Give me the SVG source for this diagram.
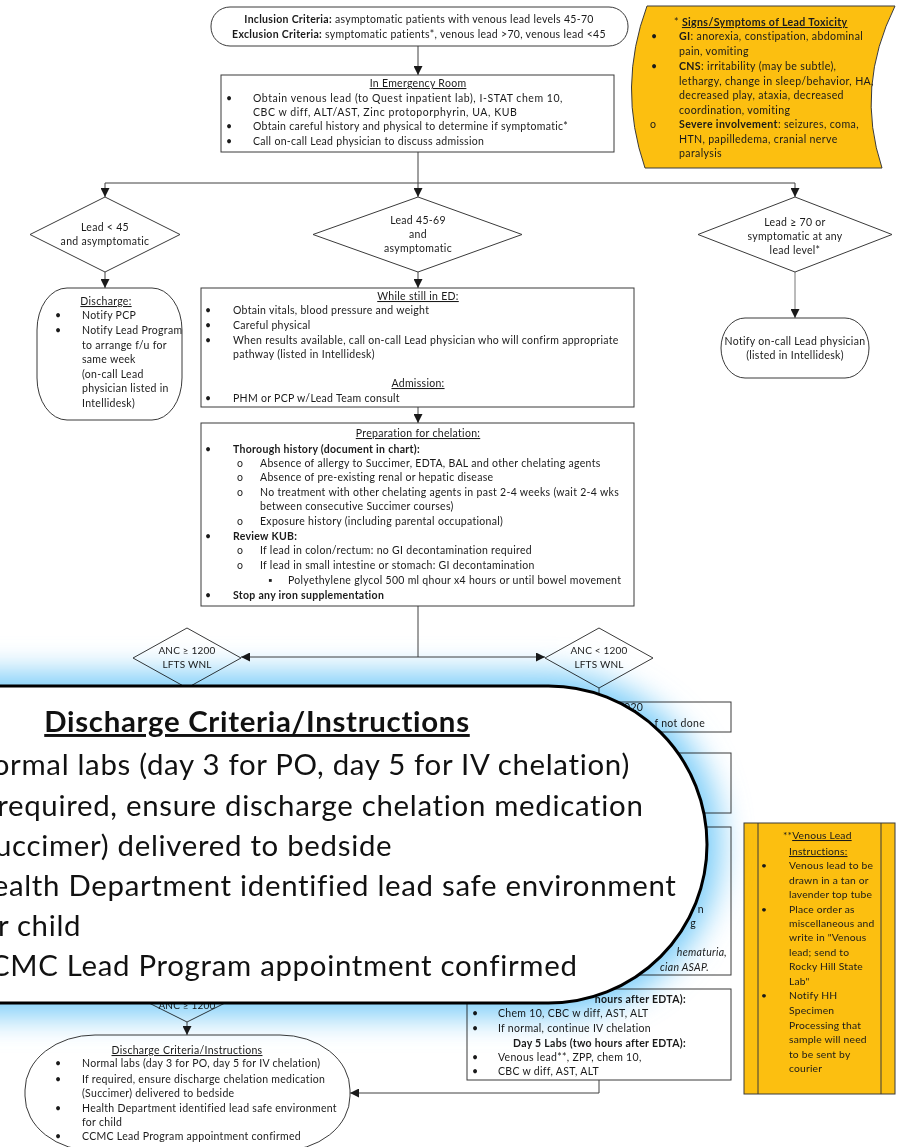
<svg xmlns="http://www.w3.org/2000/svg" width="900" height="1147" viewBox="0 0 900 1147">
<style>
.t{font-family:Lato,'Liberation Sans',sans-serif;font-size:10.5px;letter-spacing:0.3px;fill:#1a1a1a}
.er{letter-spacing:0.55px}
.sg{font-size:10.6px;letter-spacing:0.35px}
.vn{font-size:10.3px;letter-spacing:0.2px}
.s{font-size:10px;letter-spacing:0.2px}
.b{font-weight:bold}
.u{text-decoration:underline}
.i{font-style:italic}
.m{text-anchor:middle}
.e{text-anchor:end}
.box{fill:#fff;stroke:#3a3a3a;stroke-width:1}
.org{fill:#fcbf10;stroke:#3a3a3a;stroke-width:1}
.ln{stroke:#404040;stroke-width:1;fill:none}
.big{font-family:Lato,'Liberation Sans',sans-serif;font-size:29.4px;letter-spacing:0.7px;fill:#111}
</style>
<defs>
<marker id="ah" markerWidth="9" markerHeight="9" refX="9" refY="4.5" orient="auto" markerUnits="userSpaceOnUse">
<path d="M0,0 L9,4.5 L0,9 z" fill="#1a1a1a"/>
</marker>
<filter id="glow" x="-20%" y="-40%" width="140%" height="180%">
<feGaussianBlur stdDeviation="15"/>
</filter>
</defs>
<rect width="900" height="1147" fill="#fff"/>

<g id="connectors">
<path class="ln" d="M418,46 V75" marker-end="url(#ah)"/>
<path class="ln" d="M418,152 V183 M105,183 H795"/>
<path class="ln" d="M105,183 V197" marker-end="url(#ah)"/>
<path class="ln" d="M418,183 V197" marker-end="url(#ah)"/>
<path class="ln" d="M795,183 V197" marker-end="url(#ah)"/>
<path class="ln" d="M105,272 V288" marker-end="url(#ah)"/>
<path class="ln" d="M418,272 V288" marker-end="url(#ah)"/>
<path class="ln" d="M795,272 V318" marker-end="url(#ah)" style="stroke:#777"/>
<path class="ln" d="M418,407 V423" marker-end="url(#ah)"/>
<path class="ln" d="M418,606 V657 H545" marker-end="url(#ah)"/>
<path class="ln" d="M418,657 H241" marker-end="url(#ah)"/>
<path class="ln" d="M599,688 V702"/>
<path class="ln" d="M187,1022 V1035" marker-end="url(#ah)"/>
<path class="ln" d="M599,1080 V1093 H350" marker-end="url(#ah)"/>
</g>

<g id="inclusion">
<rect class="box" x="211" y="7" width="417" height="39" rx="19"/>
<text class="t m" x="419" y="23"><tspan class="b">Inclusion Criteria:</tspan> asymptomatic patients with venous lead levels 45-70</text>
<text class="t m" x="419" y="38"><tspan class="b">Exclusion Criteria:</tspan> symptomatic patients*, venous lead &gt;70, venous lead &lt;45</text>
</g>

<g id="signs">
<path class="org" d="M647,6 L895,6 Q855,87 882,168 L645,168 Q617,87 647,6 Z"/>
<text class="t sg" x="674" y="26">* <tspan class="u b">Signs/Symptoms of Lead Toxicity</tspan></text>
<text class="t sg" x="651" y="40">•</text>
<text class="t sg" x="679" y="40"><tspan class="b">GI</tspan>: anorexia, constipation, abdominal</text>
<text class="t sg" x="679" y="55">pain, vomiting</text>
<text class="t sg" x="651" y="70">•</text>
<text class="t sg" x="679" y="70"><tspan class="b">CNS</tspan>: irritability (may be subtle),</text>
<text class="t sg" x="679" y="85">lethargy, change in sleep/behavior, HA,</text>
<text class="t sg" x="679" y="99">decreased play, ataxia, decreased</text>
<text class="t sg" x="679" y="114">coordination, vomiting</text>
<text class="t sg" x="650" y="128">o</text>
<text class="t sg" x="679" y="128"><tspan class="b">Severe involvement</tspan>: seizures, coma,</text>
<text class="t sg" x="679" y="143">HTN, papilledema, cranial nerve</text>
<text class="t sg" x="679" y="157">paralysis</text>
</g>

<g id="er">
<rect class="box" x="221" y="75" width="393" height="77"/>
<text class="t m u" x="418" y="87">In Emergency Room</text>
<text class="t" x="226" y="102">•</text>
<text class="t er" x="253" y="102">Obtain venous lead (to Quest inpatient lab), I-STAT chem 10,</text>
<text class="t er" x="253" y="116">CBC w diff, ALT/AST, Zinc protoporphyrin, UA, KUB</text>
<text class="t" x="226" y="130">•</text>
<text class="t" x="253" y="130">Obtain careful history and physical to determine if symptomatic*</text>
<text class="t" x="226" y="145">•</text>
<text class="t" x="253" y="145">Call on-call Lead physician to discuss admission</text>
</g>

<g id="d-low">
<path class="box" d="M105,197 L180,234.5 L105,272 L30,234.5 Z"/>
<text class="t m" x="105" y="231">Lead &lt; 45</text>
<text class="t m" x="105" y="245">and asymptomatic</text>
</g>

<g id="d-mid">
<path class="box" d="M418,197 L522,234.5 L418,272 L313,234.5 Z"/>
<text class="t m" x="418" y="224">Lead 45-69</text>
<text class="t m" x="418" y="238">and</text>
<text class="t m" x="418" y="252">asymptomatic</text>
</g>

<g id="d-high">
<path class="box" d="M795,197 L892,234.5 L795,272 L698,234.5 Z"/>
<text class="t m" x="795" y="226">Lead ≥ 70 or</text>
<text class="t m" x="795" y="240">symptomatic at any</text>
<text class="t m" x="795" y="254">lead level*</text>
</g>

<g id="discharge1">
<rect class="box" x="37" y="288" width="145" height="132" rx="30" ry="42"/>
<text class="t m u" x="106" y="305">Discharge:</text>
<text class="t" x="55" y="319">•</text>
<text class="t" x="82" y="319">Notify PCP</text>
<text class="t" x="55" y="334">•</text>
<text class="t" x="82" y="334">Notify Lead Program</text>
<text class="t" x="82" y="349">to arrange f/u for</text>
<text class="t" x="82" y="363">same week</text>
<text class="t" x="82" y="378">(on-call Lead</text>
<text class="t" x="82" y="392">physician listed in</text>
<text class="t" x="82" y="407">Intellidesk)</text>
</g>

<g id="while-ed">
<rect class="box" x="201" y="288" width="433" height="119"/>
<text class="t m u" x="418" y="300">While still in ED:</text>
<text class="t" x="205" y="314">•</text>
<text class="t" x="233" y="314">Obtain vitals, blood pressure and weight</text>
<text class="t" x="205" y="329">•</text>
<text class="t" x="233" y="329">Careful physical</text>
<text class="t" x="205" y="344">•</text>
<text class="t" x="233" y="344">When results available, call on-call Lead physician who will confirm appropriate</text>
<text class="t" x="233" y="358">pathway (listed in Intellidesk)</text>
<text class="t m u" x="418" y="387">Admission:</text>
<text class="t" x="205" y="402">•</text>
<text class="t" x="233" y="402">PHM or PCP w/Lead Team consult</text>
</g>

<g id="notify">
<rect class="box" x="721" y="318" width="148" height="60" rx="24" ry="30"/>
<text class="t m" x="795" y="345">Notify on-call Lead physician</text>
<text class="t m" x="795" y="359">(listed in Intellidesk)</text>
</g>

<g id="prep">
<rect class="box" x="201" y="423" width="433" height="183"/>
<text class="t m u" x="418" y="437">Preparation for chelation:</text>
<text class="t" x="205" y="453">•</text>
<text class="t b" x="233" y="453">Thorough history (document in chart):</text>
<text class="t" x="237" y="467">o</text>
<text class="t" x="260" y="467">Absence of allergy to Succimer, EDTA, BAL and other chelating agents</text>
<text class="t" x="237" y="481">o</text>
<text class="t" x="260" y="481">Absence of pre-existing renal or hepatic disease</text>
<text class="t" x="237" y="496">o</text>
<text class="t" x="260" y="496">No treatment with other chelating agents in past 2-4 weeks (wait 2-4 wks</text>
<text class="t" x="260" y="510">between consecutive Succimer courses)</text>
<text class="t" x="237" y="525">o</text>
<text class="t" x="260" y="525">Exposure history (including parental occupational)</text>
<text class="t" x="205" y="540">•</text>
<text class="t b" x="233" y="540">Review KUB:</text>
<text class="t" x="237" y="554">o</text>
<text class="t" x="260" y="554">If lead in colon/rectum: no GI decontamination required</text>
<text class="t" x="237" y="569">o</text>
<text class="t" x="260" y="569">If lead in small intestine or stomach: GI decontamination</text>
<text class="t" x="268" y="584">▪</text>
<text class="t" x="288" y="584">Polyethylene glycol 500 ml qhour x4 hours or until bowel movement</text>
<text class="t" x="205" y="599">•</text>
<text class="t b" x="233" y="599">Stop any iron supplementation</text>
</g>

<g id="anc-ok">
<path class="box" d="M187,628 L241,658 L187,688 L133,658 Z"/>
<text class="t s m" x="187" y="654">ANC ≥ 1200</text>
<text class="t s m" x="187" y="668">LFTS WNL</text>
</g>

<g id="anc-low">
<path class="box" d="M599,628 L653,658 L599,688 L545,658 Z"/>
<text class="t s m" x="599" y="654">ANC &lt; 1200</text>
<text class="t s m" x="599" y="668">LFTS WNL</text>
</g>

<g id="box-a">
<rect class="box" x="467" y="702" width="264" height="30"/>
<text class="t" x="624" y="711">020</text>
<text class="t e" x="705" y="727">f not done</text>
</g>
<g id="box-b">
<rect class="box" x="467" y="753" width="264" height="60"/>
</g>
<g id="box-c">
<rect class="box" x="467" y="827" width="264" height="148"/>
<text class="t e" x="704" y="913">n</text>
<text class="t e" x="696" y="927">g</text>
<text class="t i e" x="727" y="956">hematuria,</text>
<text class="t i e" x="709" y="971">cian ASAP.</text>
</g>

<g id="anc-ok2">
<path class="box" d="M187,968 L241,995 L187,1022 L133,995 Z"/>
<text class="t s m" x="187" y="1009">ANC ≥ 1200</text>
</g>

<g id="day5">
<rect class="box" x="467" y="989" width="264" height="91"/>
<text class="t b e" x="686" y="1003">hours after EDTA):</text>
<text class="t" x="472" y="1017">•</text>
<text class="t" x="498" y="1017">Chem 10, CBC w diff, AST, ALT</text>
<text class="t" x="472" y="1032">•</text>
<text class="t" x="498" y="1032">If normal, continue IV chelation</text>
<text class="t b" x="513" y="1047">Day 5 Labs (two hours after EDTA):</text>
<text class="t" x="472" y="1061">•</text>
<text class="t" x="498" y="1061">Venous lead**, ZPP, chem 10,</text>
<text class="t" x="472" y="1075">•</text>
<text class="t" x="498" y="1075">CBC w diff, AST, ALT</text>
</g>

<g id="venous">
<rect class="org" x="744" y="823" width="151" height="271"/>
<path class="ln" d="M758,823 V1094 M881,823 V1094" style="stroke:#3a3a3a"/>
<text class="t vn" x="783" y="839">**<tspan class="u">Venous Lead</tspan></text>
<text class="t vn u" x="789" y="855">Instructions:</text>
<text class="t vn" x="761" y="869">•</text>
<text class="t vn" x="789" y="869">Venous lead to be</text>
<text class="t vn" x="789" y="884">drawn in a tan or</text>
<text class="t vn" x="789" y="898">lavender top tube</text>
<text class="t vn" x="761" y="913">•</text>
<text class="t vn" x="789" y="913">Place order as</text>
<text class="t vn" x="789" y="927">miscellaneous and</text>
<text class="t vn" x="789" y="941">write in "Venous</text>
<text class="t vn" x="789" y="956">lead; send to</text>
<text class="t vn" x="789" y="970">Rocky Hill State</text>
<text class="t vn" x="789" y="985">Lab"</text>
<text class="t vn" x="761" y="999">•</text>
<text class="t vn" x="789" y="999">Notify HH</text>
<text class="t vn" x="789" y="1014">Specimen</text>
<text class="t vn" x="789" y="1029">Processing that</text>
<text class="t vn" x="789" y="1043">sample will need</text>
<text class="t vn" x="789" y="1058">to be sent by</text>
<text class="t vn" x="789" y="1072">courier</text>
</g>

<g id="discharge2">
<rect class="box" x="25" y="1035" width="325" height="116" rx="70" ry="55"/>
<text class="t m u" x="187" y="1054">Discharge Criteria/Instructions</text>
<text class="t" x="55" y="1067">•</text>
<text class="t" x="82" y="1067">Normal labs (day 3 for PO, day 5 for IV chelation)</text>
<text class="t" x="55" y="1083">•</text>
<text class="t" x="82" y="1083">If required, ensure discharge chelation medication</text>
<text class="t" x="82" y="1097">(Succimer) delivered to bedside</text>
<text class="t" x="55" y="1112">•</text>
<text class="t" x="82" y="1112">Health Department identified lead safe environment</text>
<text class="t" x="82" y="1126">for child</text>
<text class="t" x="55" y="1140">•</text>
<text class="t" x="82" y="1140">CCMC Lead Program appointment confirmed</text>
</g>

<g id="magnifier">
<rect x="-614" y="672" width="1335" height="345" rx="172" fill="#7ecef8" filter="url(#glow)" style="mix-blend-mode:multiply"/>
<rect x="-600" y="686" width="1307" height="317" rx="158.5" fill="#fff" stroke="#000" stroke-width="3"/>
<text class="big b u m" x="257" y="732">Discharge Criteria/Instructions</text>
<text class="big" x="-30" y="775">Normal labs (day 3 for PO, day 5 for IV chelation)</text>
<text class="big" x="-30" y="816">If required, ensure discharge chelation medication</text>
<text class="big" x="-30" y="856">(Succimer) delivered to bedside</text>
<text class="big" x="-30" y="896">Health Department identified lead safe environment</text>
<text class="big" x="-30" y="936">for child</text>
<text class="big" x="-30" y="976">CCMC Lead Program appointment confirmed</text>
</g>
</svg>
